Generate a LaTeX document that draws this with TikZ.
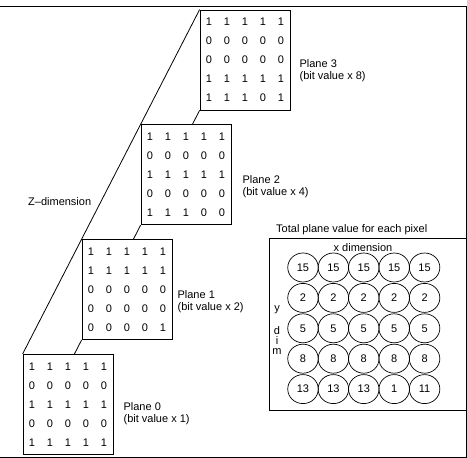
\documentclass[tikz,border=0pt]{standalone}
\usepackage{fontspec}
\setmainfont{Liberation Sans}
\usetikzlibrary{positioning, matrix, shapes.geometric}

\begin{document}
\begin{tikzpicture}[
      x=1pt, y=1pt,
      font=\fontsize{11}{12}\selectfont,
      %% One bit plane: 5x5 bits inside a box
      plane/.style={matrix of nodes, draw, line width=0.8pt,
                    inner xsep=0pt, inner ysep=2.5pt,
                    nodes={minimum width=18pt, minimum height=19pt, inner sep=0pt}},
      %% Summed pixel values, one ring per pixel
      total/.style={matrix of nodes, inner sep=0pt,
                    column sep=-0.8pt, row sep=0.7pt,
                    nodes={ellipse, draw, line width=0.7pt, minimum width=30.5pt,
                           minimum height=29pt, inner sep=0pt}},
      lbl/.style={align=left, inner sep=0pt},
      edge/.style={draw, line width=0.8pt},
    ]
    \useasboundingbox (0,0) rectangle (467,-458);

    %% ── Outer frame (open on the left) ──────────────────────────────────────
    \draw[edge] (0,-6) -- (466,-6) -- (466,-457) -- (0,-457);

    %% ── Bit planes, back to front ───────────────────────────────────────────
    \matrix (p3) [plane] at (245,-60) {
      1 & 1 & 1 & 1 & 1 \\
      0 & 0 & 0 & 0 & 0 \\
      0 & 0 & 0 & 0 & 0 \\
      1 & 1 & 1 & 1 & 1 \\
      1 & 1 & 1 & 0 & 1 \\
    };

    \matrix (p2) [plane, below=14pt of p3, xshift=-59pt] {
      1 & 1 & 1 & 1 & 1 \\
      0 & 0 & 0 & 0 & 0 \\
      1 & 1 & 1 & 1 & 1 \\
      0 & 0 & 0 & 0 & 0 \\
      1 & 1 & 1 & 0 & 0 \\
    };

    \matrix (p1) [plane, below=14pt of p2, xshift=-59pt] {
      1 & 1 & 1 & 1 & 1 \\
      1 & 1 & 1 & 1 & 1 \\
      0 & 0 & 0 & 0 & 0 \\
      0 & 0 & 0 & 0 & 0 \\
      0 & 0 & 0 & 0 & 1 \\
    };

    \matrix (p0) [plane, below=14pt of p1, xshift=-59pt] {
      1 & 1 & 1 & 1 & 1 \\
      0 & 0 & 0 & 0 & 0 \\
      1 & 1 & 1 & 1 & 1 \\
      0 & 0 & 0 & 0 & 0 \\
      1 & 1 & 1 & 1 & 1 \\
    };

    %% plane labels (base = baseline of the last line)
    \node[lbl, anchor=base west] (l3) at ([xshift=9pt, yshift=-19pt]p3.east)
      {Plane 3\\(bit value x 8)};
    \node[lbl, anchor=base west] (l2) at ([xshift=11pt, yshift=-20.5pt]p2.east)
      {Plane 2\\(bit value x 4)};
    \node[lbl, anchor=base west] (l1) at ([xshift=5pt, yshift=-20.5pt]p1.east)
      {Plane 1\\(bit value x 2)};
    \node[lbl, anchor=base west] (l0) at ([xshift=10pt, yshift=-18.5pt]p0.east)
      {Plane 0\\(bit value x 1)};

    \node[lbl, anchor=base west] (zdim) at (28,-205) {Z--dimension};

    %% ── Depth lines ─────────────────────────────────────────────────────────
    \draw[edge] (p3.north west) -- (p0.north west);
    \draw[edge] (p3.south west) --
      (intersection of p3.south west--p2.south west and p2.north west--p2.north east);
    \draw[edge] (p2.south west) --
      (intersection of p2.south west--p1.south west and p1.north west--p1.north east);
    \draw[edge] (p1.south west) --
      (intersection of p1.south west--p0.south west and p0.north west--p0.north east);

    %% ── Total per pixel ─────────────────────────────────────────────────────
    \node[edge, anchor=north west, minimum width=197pt, minimum height=172pt,
          inner sep=0pt] (totbox) at (269,-238) {};
    \node[lbl, anchor=base west] (ttl) at (276,-232.5) {Total plane value for each pixel};

    \matrix (tot) [total] at (363.8,-328.3) {
      15 & 15 & 15 & 15 & 15 \\
       2 &  2 &  2 &  2 &  2 \\
       5 &  5 &  5 &  5 &  5 \\
       8 &  8 &  8 &  8 &  8 \\
      13 & 13 & 13 &  1 & 11 \\
    };

    \node[lbl, anchor=base] (xdim) at (363,-251) {x dimension};
    \node[anchor=base, inner sep=0pt] (ylbl) at (277,-311.5) {y};
    \node[lbl, align=center, anchor=base, font=\fontsize{11}{10}\selectfont]
      (dimlbl) at (277,-354) {d\\i\\m};
  \end{tikzpicture}
\end{document}
